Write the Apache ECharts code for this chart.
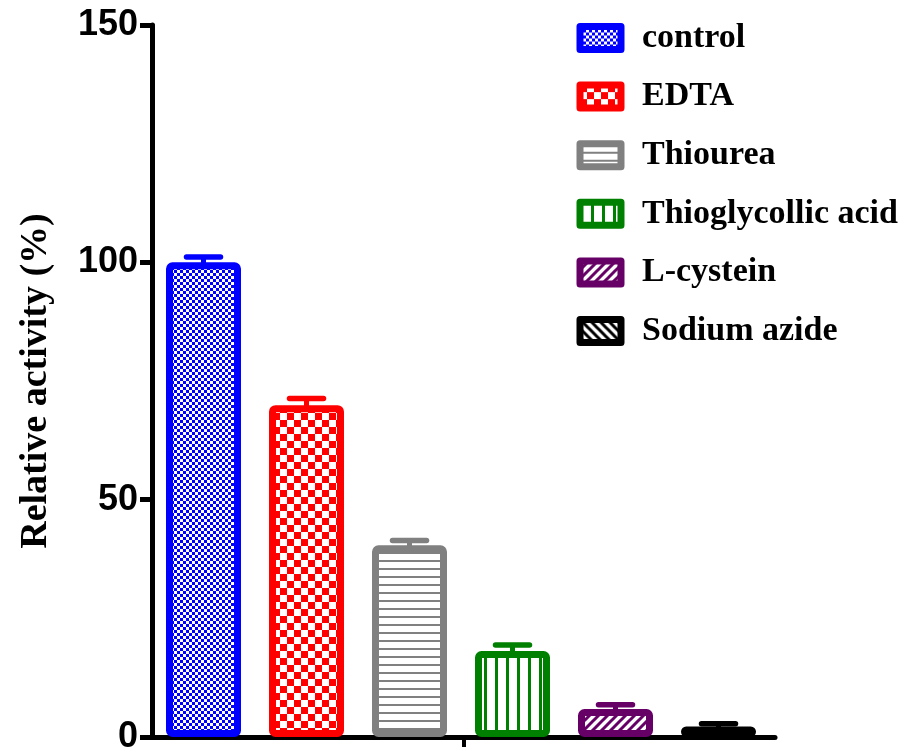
<!DOCTYPE html>
<html>
<head>
<meta charset="utf-8">
<script src="https://cdn.jsdelivr.net/npm/echarts@6/dist/echarts.min.js"></script>
<style>
  html, body { margin: 0; padding: 0; background: #fff; }
  #main { width: 911px; height: 753px; }
</style>
</head>
<body>
<div id="main"></div>
<script>
// 数据
var groupNames = ['control', 'EDTA', 'Thiourea', 'Thioglycollic acid', 'L-cystein', 'Sodium azide'];
var meanValues = [100, 69.9, 40.4, 18.1, 5.9, 2.2];
var errValues = [1.1, 1.4, 1.0, 1.3, 0.9, 0.6];
var yTicks = [0, 50, 100, 150];
var barColors = ['#0000ff', '#ff0000', '#808080', '#008000', '#660066', '#000000'];

// 填充图案
function makePattern(color, kind) {
    var c = document.createElement('canvas');
    var ctx;
    if (kind === 'checkSmall' || kind === 'checkBig') {
        var s = kind === 'checkSmall' ? 3 : 7;
        c.width = c.height = s * 2;
        ctx = c.getContext('2d');
        ctx.fillStyle = '#fff';
        ctx.fillRect(0, 0, s * 2, s * 2);
        ctx.fillStyle = color;
        ctx.fillRect(0, 0, s, s);
        ctx.fillRect(s, s, s, s);
    } else if (kind === 'hline') {
        c.width = 8; c.height = 8;
        ctx = c.getContext('2d');
        ctx.fillStyle = '#fff';
        ctx.fillRect(0, 0, 8, 8);
        ctx.fillStyle = color;
        ctx.fillRect(0, 0, 8, 2);
    } else if (kind === 'vline') {
        c.width = 11; c.height = 8;
        ctx = c.getContext('2d');
        ctx.fillStyle = '#fff';
        ctx.fillRect(0, 0, 11, 8);
        ctx.fillStyle = color;
        ctx.fillRect(0, 0, 3, 8);
    } else {
        var p = 9;
        c.width = c.height = p;
        ctx = c.getContext('2d');
        ctx.fillStyle = '#fff';
        ctx.fillRect(0, 0, p, p);
        ctx.strokeStyle = color;
        ctx.lineWidth = 3;
        ctx.beginPath();
        if (kind === 'diagUp') {
            ctx.moveTo(0, p); ctx.lineTo(p, 0);
            ctx.moveTo(-2, 2); ctx.lineTo(2, -2);
            ctx.moveTo(p - 2, p + 2); ctx.lineTo(p + 2, p - 2);
        } else {
            ctx.moveTo(0, 0); ctx.lineTo(p, p);
            ctx.moveTo(-2, p - 2); ctx.lineTo(2, p + 2);
            ctx.moveTo(p - 2, -2); ctx.lineTo(p + 2, 2);
        }
        ctx.stroke();
    }
    return { image: c, repeat: 'repeat' };
}

var patternKinds = ['checkSmall', 'checkBig', 'hline', 'vline', 'diagUp', 'diagDown'];

var chart = echarts.init(document.getElementById('main'));

var barSeries = groupNames.map(function (name, i) {
    var d = groupNames.map(function (_, j) { return j === i ? meanValues[i] : '-'; });
    return {
        name: name,
        type: 'bar',
        xAxisIndex: 1,
        yAxisIndex: 1,
        stack: 'all',
        barWidth: 75,
        data: d,
        z: 3,
        itemStyle: {
            color: makePattern(barColors[i], patternKinds[i]),
            borderColor: barColors[i],
            borderWidth: 7,
            borderRadius: 3
        }
    };
});

// 误差线 (只画上半部分)
var errSeries = {
    type: 'custom',
    name: 'err',
    xAxisIndex: 1,
    yAxisIndex: 1,
    z: 2,
    data: meanValues.map(function (v, i) { return [i, v, errValues[i]]; }),
    renderItem: function (params, api) {
        var idx = api.value(0);
        var base = api.coord([idx, api.value(1) - 1]);
        var top = api.coord([idx, api.value(1) + api.value(2)]);
        var col = barColors[idx];
        return {
            type: 'group',
            children: [
                { type: 'line', shape: { x1: base[0], y1: base[1], x2: top[0], y2: top[1] }, style: { stroke: col, lineWidth: 5 } },
                { type: 'line', shape: { x1: top[0] - 17, y1: top[1], x2: top[0] + 17, y2: top[1] }, style: { stroke: col, lineWidth: 5.5, lineCap: 'round' } }
            ]
        };
    }
};

chart.setOption({
    animation: false,
    grid: [
        { left: 152, right: 136, top: 25, bottom: 16, containLabel: false, outerBoundsMode: 'none' },
        { left: 152, right: 141, top: 25, bottom: 16, containLabel: false, outerBoundsMode: 'none' }
    ],
    legend: {
        orient: 'vertical',
        left: 576.5,
        top: 21,
        padding: 0,
        itemWidth: 41,
        itemHeight: 23,
        itemGap: 24.6,
        icon: 'rect',
        data: groupNames,
        itemStyle: { borderWidth: 7, borderJoin: 'round' },
        textStyle: {
            fontFamily: '"Liberation Serif", "Times New Roman", serif',
            fontWeight: 'bold',
            fontSize: 34,
            color: '#000',
            padding: [0, 0, 0, 16]
        }
    },
    xAxis: [
        {
            type: 'category',
            gridIndex: 0,
            data: [''],
            axisLine: { show: true, lineStyle: { color: '#000', width: 5 } },
            axisTick: { show: true, alignWithLabel: true, length: 10, lineStyle: { color: '#000', width: 4 } },
            axisLabel: { show: false },
            splitLine: { show: false }
        },
        {
            type: 'category',
            gridIndex: 1,
            data: groupNames,
            show: false
        }
    ],
    yAxis: [
        {
            type: 'value',
            gridIndex: 0,
            min: yTicks[0],
            max: yTicks[yTicks.length - 1],
            interval: 50,
            name: 'Relative activity (%)',
            nameLocation: 'middle',
            nameGap: 97,
            nameTextStyle: {
                fontFamily: '"Liberation Serif", "Times New Roman", serif',
                fontWeight: 'bold',
                fontSize: 38,
                color: '#000'
            },
            axisLine: { show: true, lineStyle: { color: '#000', width: 5 } },
            axisTick: { show: true, length: 12, lineStyle: { color: '#000', width: 5 } },
            axisLabel: {
                margin: 14,
                fontFamily: '"Liberation Sans", Arial, sans-serif',
                fontWeight: 'bold',
                fontSize: 36,
                color: '#000'
            },
            splitLine: { show: false }
        },
        {
            type: 'value',
            gridIndex: 1,
            min: yTicks[0],
            max: yTicks[yTicks.length - 1],
            interval: 50,
            show: false
        }
    ],
    series: barSeries.concat([errSeries])
});

window.addEventListener('resize', function () {
    chart.resize();
});
</script>
</body>
</html>
